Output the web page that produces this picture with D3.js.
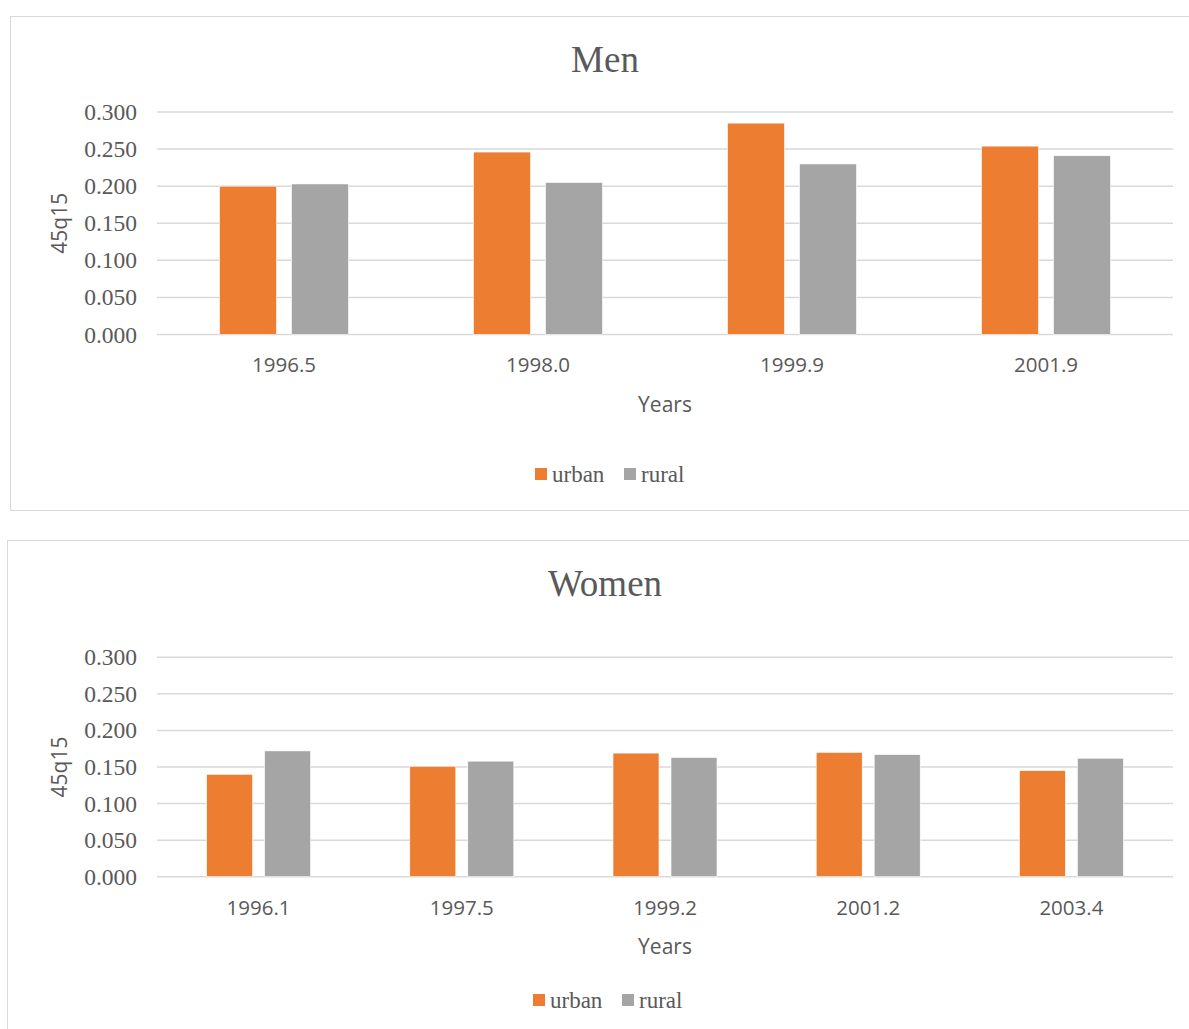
<!DOCTYPE html>
<html>
<head>
<meta charset="utf-8">
<script src="https://cdn.jsdelivr.net/npm/d3@7/dist/d3.min.js"></script>
<style>
  html, body { margin: 0; padding: 0; background: #fff; }
  svg { display: block; }
</style>
</head>
<body>
<svg id="chart" width="1189" height="1029"></svg>
<script>
// Series names and colours
const seriesNames = ["urban", "rural"];
const seriesColors = ["#ED7D31", "#A5A5A5"];

// Men: 45q15 by survey year
const menYears = ["1996.5", "1998.0", "1999.9", "2001.9"];
const menUrban = [0.200, 0.246, 0.285, 0.254];
const menRural = [0.203, 0.205, 0.230, 0.241];

// Women: 45q15 by survey year
const womenYears = ["1996.1", "1997.5", "1999.2", "2001.2", "2003.4"];
const womenUrban = [0.140, 0.151, 0.169, 0.170, 0.145];
const womenRural = [0.172, 0.158, 0.163, 0.167, 0.162];

// Shared y-axis ticks
const yTicks = [0.000, 0.050, 0.100, 0.150, 0.200, 0.250, 0.300];

const svg = d3.select("#chart");
const textColor = "#595959";
const gridColor = "#D9D9D9";
const serif = "'Liberation Serif', 'Times New Roman', serif";
const sans = "'Open Sans', 'Noto Sans', sans-serif";

function drawPanel(opt) {
  const g = svg.append("g");

  // panel frame
  g.append("rect")
    .attr("x", opt.frame.x + 0.5).attr("y", opt.frame.y + 0.5)
    .attr("width", opt.frame.w).attr("height", opt.frame.h)
    .attr("fill", "#fff").attr("stroke", gridColor).attr("stroke-width", 1);

  const x0 = d3.scaleBand().domain(opt.categories)
    .range([opt.plot.left, opt.plot.right]).paddingInner(0).paddingOuter(0);
  const y = d3.scaleLinear().domain([0, 0.3]).range([opt.plot.bottom, opt.plot.top]);

  const groupW = x0.bandwidth() * opt.groupFrac;
  const x1 = d3.scaleBand().domain(seriesNames)
    .range([0, groupW]).paddingInner(opt.innerPad).paddingOuter(0);

  // gridlines
  g.append("g").selectAll("line").data(yTicks).join("line")
    .attr("x1", opt.plot.left).attr("x2", opt.plot.right)
    .attr("y1", d => y(d)).attr("y2", d => y(d))
    .attr("stroke", gridColor).attr("stroke-width", 1.5);

  // y axis labels
  const yAxis = d3.axisLeft(y).tickValues(yTicks).tickFormat(d3.format(".3f")).tickSize(0).tickPadding(0);
  const ya = g.append("g").attr("transform", `translate(${opt.plot.left - 20},0)`).call(yAxis);
  ya.select(".domain").remove();
  ya.selectAll("text").attr("font-family", serif).attr("font-size", 23.5)
    .attr("fill", textColor).attr("dy", "0.32em");

  // bars
  const rows = opt.categories.map((c, i) => ({ cat: c, vals: [opt.urban[i], opt.rural[i]] }));
  const groups = g.append("g").selectAll("g").data(rows).join("g")
    .attr("transform", d => `translate(${x0(d.cat) + (x0.bandwidth() - groupW) / 2},0)`);
  groups.selectAll("rect")
    .data(d => d.vals.map((v, k) => ({ key: seriesNames[k], v, k })))
    .join("rect")
    .attr("x", d => x1(d.key))
    .attr("width", x1.bandwidth())
    .attr("y", d => y(d.v))
    .attr("height", d => y(0) - y(d.v))
    .attr("fill", d => seriesColors[d.k])
    .attr("stroke", "#fff").attr("stroke-width", 0.6);

  // x axis labels
  const xAxis = d3.axisBottom(x0).tickSize(0).tickPadding(0);
  const xa = g.append("g").attr("transform", `translate(0,${opt.xLabelY})`).call(xAxis);
  xa.select(".domain").remove();
  xa.selectAll("text").attr("font-family", sans).attr("font-size", 20.5)
    .attr("fill", textColor).attr("dy", "0.35em");

  const cx = (opt.plot.left + opt.plot.right) / 2;

  // title
  g.append("text").attr("x", 605).attr("y", opt.titleY)
    .attr("text-anchor", "middle").attr("dy", "0.35em")
    .attr("font-family", serif).attr("font-size", 37).attr("fill", textColor)
    .text(opt.title);

  // axis titles
  g.append("text").attr("x", cx).attr("y", opt.xTitleY)
    .attr("text-anchor", "middle").attr("dy", "0.35em")
    .attr("font-family", sans).attr("font-size", 21).attr("fill", textColor)
    .text("Years");
  g.append("text")
    .attr("transform", `translate(60,${(opt.plot.top + opt.plot.bottom) / 2}) rotate(-90)`)
    .attr("text-anchor", "middle").attr("dy", "0.35em")
    .attr("font-family", sans).attr("font-size", 21).attr("fill", textColor)
    .text("45q15");

  // legend
  const leg = g.append("g").attr("transform", `translate(${opt.legendX},${opt.legendY})`);
  const items = leg.selectAll("g").data(seriesNames).join("g")
    .attr("transform", (d, i) => `translate(${i * 89},0)`);
  items.append("rect").attr("x", 0).attr("y", -6).attr("width", 12).attr("height", 12)
    .attr("fill", (d, i) => seriesColors[i]);
  items.append("text").attr("x", 17).attr("y", 0).attr("dy", "0.35em")
    .attr("font-family", serif).attr("font-size", 23).attr("fill", textColor)
    .text(d => d);
}

drawPanel({
  title: "Men",
  categories: menYears, urban: menUrban, rural: menRural,
  frame: { x: 10, y: 16, w: 1190, h: 494 },
  plot: { left: 157, right: 1173, top: 112, bottom: 334.5 },
  groupFrac: 129 / 254, innerPad: 0.2083,
  titleY: 59, xLabelY: 365, xTitleY: 405,
  legendX: 535, legendY: 474
});

drawPanel({
  title: "Women",
  categories: womenYears, urban: womenUrban, rural: womenRural,
  frame: { x: 7, y: 540, w: 1190, h: 500 },
  plot: { left: 157, right: 1173, top: 657.3, bottom: 876.7 },
  groupFrac: 104 / 203.2, innerPad: 0.2069,
  titleY: 583, xLabelY: 908, xTitleY: 947,
  legendX: 533, legendY: 1000
});
</script>
</body>
</html>
